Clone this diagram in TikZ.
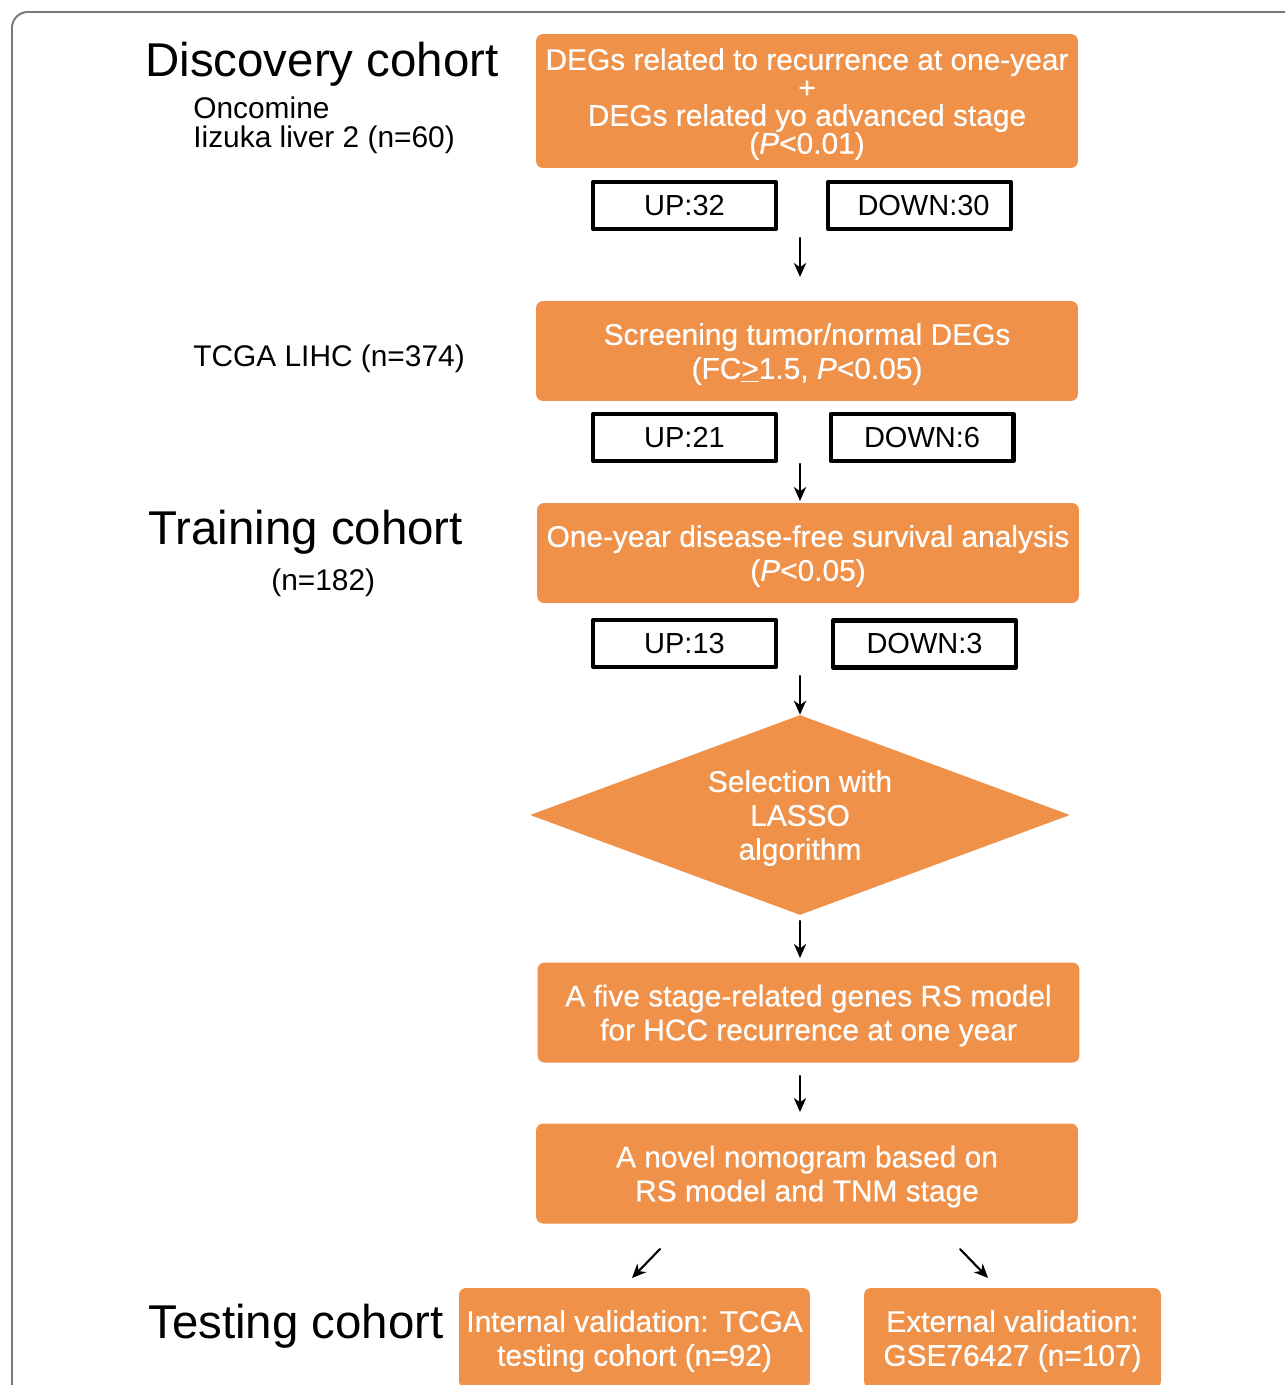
\documentclass[tikz,border=0pt]{standalone}
\usepackage{fontspec}
\setmainfont{Liberation Sans}
\newfontfamily\boxfont{Liberation Sans}[FakeBold=0.5]
\usepackage{tikz}
\usetikzlibrary{positioning}
\usetikzlibrary{arrows.meta, shapes.geometric}
\definecolor{flowOrange}{RGB}{240,145,74}
\definecolor{frameGray}{RGB}{120,120,120}

\begin{document}
\begin{tikzpicture}[x=0.02cm, y=-0.02cm, line cap=round, line join=round,
        stepbox/.style={fill=flowOrange, rounded corners=4pt, text=white, align=center,
            minimum width=10.84cm, minimum height=2cm, inner sep=0pt, text depth=-2pt,
            font=\boxfont\fontsize{17}{19.3}\selectfont},
        countbox/.style={draw=black, line width=2.3pt, minimum width=3.66cm,
            minimum height=0.94cm, inner sep=0pt, font=\fontsize{16.5}{19}\selectfont},
        cohort/.style={anchor=base west, inner sep=0pt, font=\fontsize{27}{30}\selectfont},
        source/.style={anchor=base west, inner sep=0pt, font=\fontsize{17}{20}\selectfont},
        flow/.style={-{Stealth[length=8pt, width=7pt, inset=2.5pt]}, line width=1.2pt}]
        \useasboundingbox (0,0) rectangle (1285,1385);
        \clip (0,0) rectangle (1285,1385);

        % outer frame (runs off the page at right and bottom)
        \draw[frameGray, line width=1.1pt, rounded corners=9pt] (12,12) rectangle (1320,1420);

        % cohort labels on the left
        \node[cohort] (disc) at (145,77) {Discovery cohort};
        \node[source] (onco) at (193,119) {Oncomine};
        \node[source] (iizuka) at (193,148) {Iizuka liver 2 (n=60)};
        \node[source] (tcga) at (193,366) {TCGA LIHC (n=374)};
        \node[cohort] (train) at (148,544) {Training cohort};
        \node[source] (trainn) at (271,590) {(n=182)};
        \node[cohort] (test) at (148,1338) {Testing cohort};

        % step 1: discovery
        \node[stepbox, minimum height=2.68cm, font=\boxfont\fontsize{17}{15.9}\selectfont] (degs) at (807,101)
            {DEGs related to recurrence at one-year\\+\\DEGs related yo advanced stage\\(\textit{P}<0.01)};
        \node[countbox] (up1) at (684.5,205.5) {UP:32};
        \node[countbox] (down1) at (919.5,205.5) {\ DOWN:30};

        % step 2: tumor/normal screening
        \node[stepbox] (screen) at (807,351) {Screening tumor/normal DEGs\\(FC\underline{>}1.5, \textit{P}<0.05)};
        \node[countbox] (up2) at (684.5,437.5) {UP:21};
        \node[countbox] (down2) at (922,437.5) {DOWN:6};

        % step 3: survival analysis
        \node[stepbox] (dfs) at (808,553) {One-year disease-free survival analysis\\(\textit{P}<0.05)};
        \node[countbox] (up3) at (684.5,643.5) {UP:13};
        \node[countbox] (down3) at (924.5,644) {DOWN:3};

        % LASSO selection
        \node[diamond, aspect=2.7, fill=flowOrange, minimum width=10.8cm, minimum height=4cm, inner sep=0pt,
            text=white, align=center, text depth=-2pt, font=\boxfont\fontsize{17}{19.3}\selectfont] (lasso) at (800,815)
            {Selection with\\LASSO\\algorithm};

        % model and nomogram
        \node[stepbox] (model) at (808.5,1012.5) {A five stage-related genes RS model\\for HCC recurrence at one year};
        \node[stepbox] (nomo) at (807,1173.5) {A novel nomogram based on\\RS model and TNM stage};

        % validation boxes
        \node[stepbox, minimum width=7.02cm] (internal) at (634.5,1338)
            {Internal validation: TCGA\\testing cohort (n=92)};
        \node[stepbox, minimum width=5.94cm] (external) at (1012.5,1338)
            {External validation:\\GSE76427 (n=107)};

        % arrow ends
        \coordinate (a1s) at (800,238);
        \coordinate (a1e) at (800,277);
        \coordinate (a2s) at (800,464);
        \coordinate (a2e) at (800,501);
        \coordinate (a3s) at (800,676);
        \coordinate (a4s) at (800,921);
        \coordinate (a4e) at (800,958);
        \coordinate (a5s) at (800,1076);
        \coordinate (a5e) at (800,1112);
        \coordinate (a6s) at (660,1249);
        \coordinate (a6e) at (632,1278);
        \coordinate (a7s) at (960,1249);
        \coordinate (a7e) at (988,1278);

        % arrows
        \draw[flow] (a1s) -- (a1e);
        \draw[flow] (a2s) -- (a2e);
        \draw[flow] (a3s) -- (lasso.north);
        \draw[flow] (a4s) -- (a4e);
        \draw[flow] (a5s) -- (a5e);
        \draw[flow] (a6s) -- (a6e);
        \draw[flow] (a7s) -- (a7e);
    \end{tikzpicture}
\end{document}
